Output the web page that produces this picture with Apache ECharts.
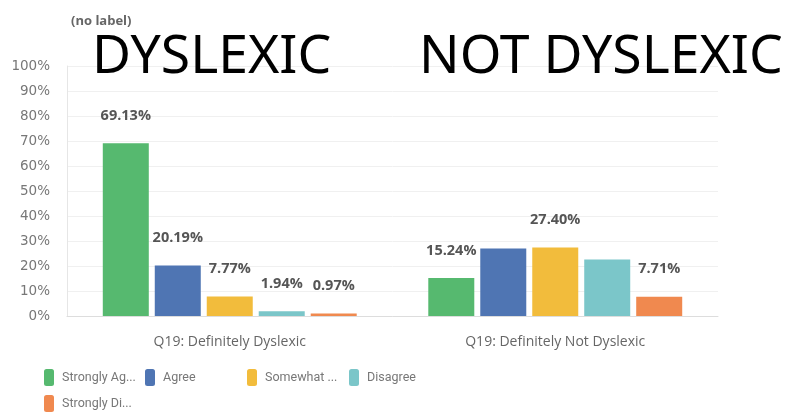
<!DOCTYPE html>
<html>
<head>
<meta charset="utf-8">
<script src="https://cdn.jsdelivr.net/npm/echarts@6/dist/echarts.min.js"></script>
<style>html,body{margin:0;padding:0;background:#fff;}#c{width:785px;height:413px;}</style>
</head>
<body>
<div id="c"></div>
<script>
const categories = ['Q19: Definitely Dyslexic', 'Q19: Definitely Not Dyslexic'];
const seriesNames = ['Strongly Ag...', 'Agree', 'Somewhat ...', 'Disagree', 'Strongly Di...'];
const stronglyAgree = [69.13, 15.24];
const agree = [20.19, 27.02];
const somewhat = [7.77, 27.40];
const disagree = [1.94, 22.63];
const stronglyDisagree = [0.97, 7.71];
const labelShown = [
  [true, true],
  [true, false],
  [true, true],
  [true, false],
  [true, true]
];
const yTicks = [0, 10, 20, 30, 40, 50, 60, 70, 80, 90, 100];
const colors = ['#56b96f', '#4f75b3', '#f2bc3c', '#7bc6c9', '#f0894f'];
const values = [stronglyAgree, agree, somewhat, disagree, stronglyDisagree];

const chart = echarts.init(document.getElementById('c'), null, {renderer: 'canvas'});
const series = values.map((vals, i) => ({
  name: seriesNames[i],
  type: 'bar',
  barWidth: 46,
  barGap: '13%',
  itemStyle: {color: colors[i]},
  data: vals.map((v, j) => ({
    value: v,
    label: {show: labelShown[i][j]}
  })),
  label: {
    position: 'top',
    distance: 20,
    formatter: p => p.value.toFixed(2) + '%',
    color: '#555',
    fontWeight: 'bold',
    fontSize: 14.5,
    fontFamily: 'Open Sans'
  }
}));

// legend slots: 4 per row, second row below
const legendLeft = [39, 140, 242, 344, 39];
const legendTop = [364, 364, 364, 364, 390];
const legends = seriesNames.map((n, i) => ({
  data: [n],
  left: legendLeft[i], top: legendTop[i],
  icon: 'roundRect',
  itemWidth: 10, itemHeight: 17,
  textStyle: {color: '#777', fontSize: 12.5, fontFamily: 'Roboto', padding: [0, 0, 0, 3]}
}));

chart.setOption({
  animation: false,
  title: [
    {text: '(no label)', left: 66, top: 10, textStyle: {fontSize: 13, fontWeight: 'bold', color: '#666', fontFamily: 'Open Sans'}},
    {text: 'DYSLEXIC', left: 87, top: 26, textStyle: {fontSize: 53.5, fontWeight: 'normal', color: '#000', fontFamily: 'Noto Sans'}},
    {text: 'NOT DYSLEXIC', left: 414, top: 26, textStyle: {fontSize: 53.5, fontWeight: 'normal', color: '#000', fontFamily: 'Noto Sans'}}
  ],
  grid: {left: 67, right: 67, top: 66, bottom: 97},
  legend: legends,
  xAxis: {
    type: 'category',
    data: categories,
    axisLine: {lineStyle: {color: '#ddd'}},
    axisTick: {show: false},
    axisLabel: {color: '#666', fontSize: 14, margin: 19, fontFamily: 'Open Sans'}
  },
  yAxis: {
    type: 'value',
    min: yTicks[0], max: yTicks[yTicks.length - 1], interval: 10,
    axisLine: {show: true, lineStyle: {color: '#e6e6e6'}},
    axisTick: {show: false},
    axisLabel: {color: '#777', fontSize: 13.5, margin: 17, formatter: '{value}%', fontFamily: 'DejaVu Sans'},
    splitLine: {lineStyle: {color: '#f0f0f0'}}
  },
  series: series
});
</script>
</body>
</html>
